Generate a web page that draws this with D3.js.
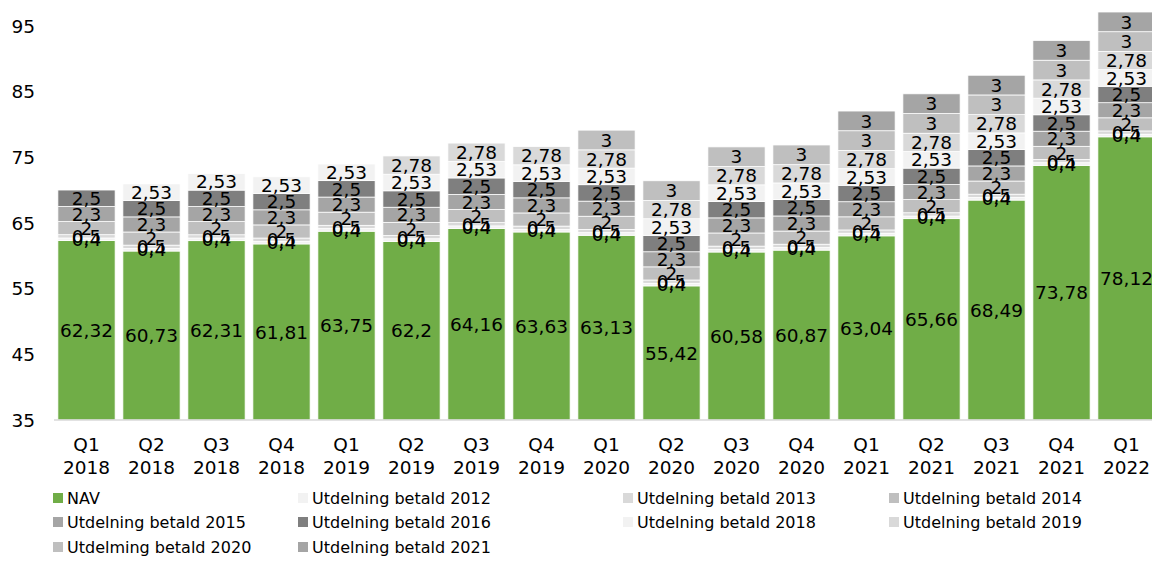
<!DOCTYPE html>
<html>
<head>
<meta charset="utf-8">
<script src="https://cdn.jsdelivr.net/npm/d3@7"></script>
<style>
  html, body { margin: 0; padding: 0; background: #fff; }
  svg { display: block; font-family: "DejaVu Sans", Verdana, sans-serif; }
</style>
</head>
<body>
<svg id="chart" width="1152" height="561"></svg>
<script>
var quarters = ['Q1','Q2','Q3','Q4','Q1','Q2','Q3','Q4','Q1','Q2','Q3','Q4','Q1','Q2','Q3','Q4','Q1'];
var years = ['2018','2018','2018','2018','2019','2019','2019','2019','2020','2020','2020','2020','2021','2021','2021','2021','2022'];

var nav = [62.32, 60.73, 62.31, 61.81, 63.75, 62.2, 64.16, 63.63, 63.13, 55.42, 60.58, 60.87, 63.04, 65.66, 68.49, 73.78, 78.12];
var u2012 = [0.4,0.4,0.4,0.4,0.4,0.4,0.4,0.4,0.4,0.4,0.4,0.4,0.4,0.4,0.4,0.4,0.4];
var u2013 = [0.5,0.5,0.5,0.5,0.5,0.5,0.5,0.5,0.5,0.5,0.5,0.5,0.5,0.5,0.5,0.5,0.5];
var u2014 = [2,2,2,2,2,2,2,2,2,2,2,2,2,2,2,2,2];
var u2015 = [2.3,2.3,2.3,2.3,2.3,2.3,2.3,2.3,2.3,2.3,2.3,2.3,2.3,2.3,2.3,2.3,2.3];
var u2016 = [2.5,2.5,2.5,2.5,2.5,2.5,2.5,2.5,2.5,2.5,2.5,2.5,2.5,2.5,2.5,2.5,2.5];
var u2018 = [null,2.53,2.53,2.53,2.53,2.53,2.53,2.53,2.53,2.53,2.53,2.53,2.53,2.53,2.53,2.53,2.53];
var u2019 = [null,null,null,null,null,2.78,2.78,2.78,2.78,2.78,2.78,2.78,2.78,2.78,2.78,2.78,2.78];
var u2020 = [null,null,null,null,null,null,null,null,3,3,3,3,3,3,3,3,3];
var u2021 = [null,null,null,null,null,null,null,null,null,null,null,null,3,3,3,3,3];

var series = [
  {key: 'nav',   name: 'NAV',                    color: '#70ad47', values: nav},
  {key: 'u2012', name: 'Utdelning betald 2012',  color: '#f2f2f2', values: u2012},
  {key: 'u2013', name: 'Utdelning betald 2013',  color: '#d9d9d9', values: u2013},
  {key: 'u2014', name: 'Utdelning betald 2014',  color: '#bfbfbf', values: u2014},
  {key: 'u2015', name: 'Utdelning betald 2015',  color: '#a5a5a5', values: u2015},
  {key: 'u2016', name: 'Utdelning betald 2016',  color: '#7f7f7f', values: u2016},
  {key: 'u2018', name: 'Utdelning betald 2018',  color: '#f2f2f2', values: u2018},
  {key: 'u2019', name: 'Utdelning betald 2019',  color: '#d9d9d9', values: u2019},
  {key: 'u2020', name: 'Utdelming betald 2020',  color: '#bfbfbf', values: u2020},
  {key: 'u2021', name: 'Utdelning betald 2021',  color: '#a5a5a5', values: u2021}
];
var yTicks = [35, 45, 55, 65, 75, 85, 95];

var rows = quarters.map(function(q, i) {
  var r = {id: i, q: q, year: years[i]};
  series.forEach(function(s) { r[s.key] = s.values[i] || 0; });
  return r;
});

var svg = d3.select('#chart');
var margin = {left: 54, top: 26, bottom: 420};
var plotRight = 1159;
var yMin = 35;

var x = d3.scaleBand()
  .domain(rows.map(function(d) { return d.id; }))
  .range([margin.left, plotRight])
  .paddingInner(0.12)
  .paddingOuter(0.06);

var y = d3.scaleLinear().domain([yMin, 95]).range([margin.bottom, margin.top]);

var stack = d3.stack().keys(series.map(function(s) { return s.key; }));
var stacked = stack(rows);

// bars start at the axis minimum, not at zero
function lo(d) { return Math.max(d[0], yMin); }

var fmt = function(v) { return String(v).replace('.', ','); };

var layers = svg.append('g').selectAll('g')
  .data(stacked)
  .enter().append('g')
  .attr('fill', function(d, i) { return series[i].color; });

layers.selectAll('rect')
  .data(function(d) { return d.filter(function(p) { return p[1] - p[0] > 0; }); })
  .enter().append('rect')
  .attr('x', function(d) { return x(d.data.id); })
  .attr('width', x.bandwidth())
  .attr('y', function(d) { return y(d[1]); })
  .attr('height', function(d) { return y(lo(d)) - y(d[1]); })
  .attr('stroke', '#ffffff')
  .attr('stroke-width', 0.75);

// axis line
svg.append('line')
  .attr('x1', margin.left).attr('x2', plotRight)
  .attr('y1', y(yMin)).attr('y2', y(yMin))
  .attr('stroke', '#d9d9d9').attr('stroke-width', 1.5);

// data labels
var labels = svg.append('g')
  .attr('font-size', '18.5px')
  .attr('fill', '#000')
  .attr('text-anchor', 'middle');

stacked.forEach(function(layer) {
  layer.forEach(function(d) {
    if (d[1] - d[0] <= 0) return;
    labels.append('text')
      .attr('x', x(d.data.id) + x.bandwidth() / 2)
      .attr('y', (y(lo(d)) + y(d[1])) / 2)
      .attr('dy', '0.36em')
      .text(fmt(d.data[layer.key]));
  });
});

// y tick labels
svg.append('g')
  .attr('font-size', '18.5px')
  .attr('fill', '#000')
  .attr('text-anchor', 'end')
  .selectAll('text')
  .data(yTicks)
  .enter().append('text')
  .attr('x', 35)
  .attr('y', function(d) { return y(d); })
  .attr('dy', '0.36em')
  .text(function(d) { return d; });

// x labels
var xl = svg.append('g')
  .attr('font-size', '18.5px')
  .attr('fill', '#000')
  .attr('text-anchor', 'middle');
rows.forEach(function(d) {
  var cx = x(d.id) + x.bandwidth() / 2;
  xl.append('text').attr('x', cx).attr('y', 451).text(d.q);
  xl.append('text').attr('x', cx).attr('y', 474).text(d.year);
});

// legend
var colX = [53, 298, 623, 889];
var rowY = [504, 528, 553];
var legend = svg.append('g').attr('font-size', '16px').attr('fill', '#000');
series.forEach(function(s, i) {
  var cx = colX[i % 4], cy = rowY[Math.floor(i / 4)];
  legend.append('rect')
    .attr('x', cx).attr('y', cy - 11)
    .attr('width', 10).attr('height', 10)
    .attr('fill', s.color);
  legend.append('text')
    .attr('x', cx + 14).attr('y', cy)
    .text(s.name);
});
</script>
</body>
</html>
